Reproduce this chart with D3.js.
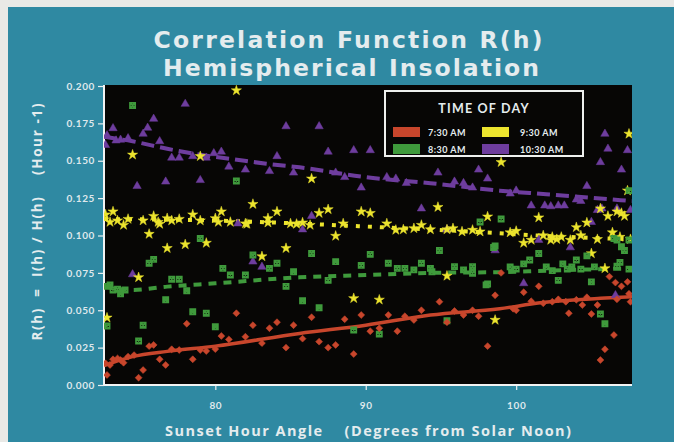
<!DOCTYPE html>
<html>
<head>
<meta charset="utf-8">
<script src="https://cdn.jsdelivr.net/npm/d3@7"></script>
<style>
  html, body { margin: 0; padding: 0; background: #e9e9e6; }
  svg { display: block; }
  text { font-family: Lato, "Open Sans", sans-serif; font-weight: 700; fill: #e4ecee; font-variant-ligatures: none; }
  .big { font-family: "Open Sans", Lato, sans-serif; }
  .title { font-family: "DejaVu Sans", "Open Sans", sans-serif; }
</style>
</head>
<body>
<svg id="vis-container" width="674" height="442"></svg>
<script>
// tick labels
var yTicks = [0, 0.025, 0.05, 0.075, 0.1, 0.125, 0.15, 0.175, 0.2];
var xTicks = [80, 90, 100];

// series names and colours
var seriesNames = ['7:30 AM', '8:30 AM', '9:30 AM', '10:30 AM'];
var seriesColors = ['#c8462c', '#3f9a3c', '#ece42e', '#6e3d9e'];

// 7:30 AM points [angle, R]
var red730 = [
    [72.7, 0.0145], [73.0, 0.0134], [73.2, 0.0172], [73.5, 0.0178], [73.7, 0.0167], [73.9, 0.0149],
    [74.2, 0.019], [74.6, 0.020], [72.8, 0.0067], [74.9, 0.0049], [75.2, 0.010], [75.6, 0.026],
    [75.9, 0.0268], [76.3, 0.0172], [76.7, 0.0134], [77.1, 0.0239], [77.6, 0.0234], [78.1, 0.041],
    [78.5, 0.0172], [79.0, 0.0234], [79.4, 0.0227], [80.0, 0.024], [80.4, 0.0328], [80.9, 0.0305],
    [81.4, 0.048], [82.0, 0.0323], [82.5, 0.040], [83.1, 0.028], [83.6, 0.038], [84.1, 0.042],
    [84.7, 0.025], [85.2, 0.040], [85.8, 0.031], [86.4, 0.0453], [86.9, 0.029], [87.5, 0.025],
    [88.0, 0.0268], [88.6, 0.044], [89.2, 0.0207], [89.7, 0.0468], [90.3, 0.036], [90.9, 0.038],
    [91.5, 0.0468], [92.1, 0.036], [92.6, 0.046], [93.2, 0.0435], [93.7, 0.050], [94.9, 0.0557],
    [95.4, 0.042], [95.9, 0.0495], [96.5, 0.0468], [97.1, 0.050], [97.5, 0.046], [98.1, 0.026],
    [98.6, 0.060], [99.0, 0.075], [99.8, 0.051], [100.0, 0.050], [100.5, 0.062], [101.0, 0.056],
    [101.5, 0.066], [101.8, 0.0547], [102.4, 0.0557], [102.8, 0.0573], [103.3, 0.0557], [103.5, 0.048],
    [104.0, 0.057], [104.4, 0.0535], [104.7, 0.0587], [105.0, 0.0475], [105.4, 0.0535], [105.6, 0.0167],
    [105.9, 0.0239], [106.2, 0.0725], [106.5, 0.0334], [106.6, 0.0685], [106.7, 0.0573], [107.0, 0.066],
    [107.4, 0.069], [107.5, 0.061], [107.6, 0.0557]
];

// 8:30 AM points
var green830 = [
    [72.8, 0.0395], [72.8, 0.066], [73.0, 0.067], [73.2, 0.0635], [73.5, 0.064], [73.7, 0.061],
    [74.0, 0.0635], [74.5, 0.187], [74.9, 0.0294], [75.2, 0.040], [75.6, 0.0814], [75.9, 0.084],
    [76.7, 0.057], [77.1, 0.0707], [77.6, 0.0707], [78.1, 0.063], [78.5, 0.049], [79.0, 0.098],
    [79.4, 0.048], [80.0, 0.039], [80.5, 0.078], [81.0, 0.0736], [81.4, 0.1365], [82.0, 0.0736],
    [82.5, 0.087], [83.6, 0.078], [84.1, 0.0814], [84.7, 0.066], [85.2, 0.0758], [85.8, 0.0564],
    [86.4, 0.088], [86.9, 0.0517], [87.5, 0.070], [88.0, 0.0825], [89.2, 0.0368], [89.7, 0.080],
    [90.3, 0.0874], [90.9, 0.034], [91.5, 0.0814], [92.1, 0.078], [92.6, 0.078], [93.2, 0.077],
    [93.7, 0.0814], [94.3, 0.078], [94.4, 0.0758], [94.9, 0.090], [95.4, 0.043], [95.9, 0.0792],
    [96.5, 0.077], [97.1, 0.0792], [97.1, 0.0747], [97.6, 0.109], [98.6, 0.093], [98.1, 0.0676],
    [99.0, 0.111], [98.5, 0.092], [98.0, 0.067], [99.6, 0.079], [100.0, 0.0775], [100.5, 0.081],
    [100.9, 0.0836], [101.5, 0.088], [102.0, 0.079], [102.4, 0.0765], [102.8, 0.070], [103.1, 0.081],
    [103.4, 0.0775], [103.7, 0.079], [104.0, 0.0836], [104.3, 0.0775], [104.7, 0.0864], [105.0, 0.069],
    [105.2, 0.079], [105.6, 0.0475], [105.9, 0.041], [106.5, 0.098], [106.7, 0.097], [106.7, 0.0795],
    [106.9, 0.082], [107.0, 0.0925], [107.2, 0.090], [107.5, 0.097], [107.5, 0.0775], [107.5, 0.130]
];

// 9:30 AM points
var yellow930 = [
    [81.4, 0.197], [74.5, 0.154], [79.0, 0.153], [82.5, 0.121], [84.1, 0.116], [80.4, 0.116],
    [78.5, 0.114], [73.2, 0.116], [72.7, 0.114], [75.9, 0.113], [73.0, 0.109], [73.5, 0.110],
    [73.9, 0.107], [74.2, 0.111], [75.2, 0.110], [76.2, 0.109], [76.3, 0.1077], [76.8, 0.1115],
    [77.1, 0.110], [77.6, 0.111], [79.0, 0.110], [80.0, 0.1115], [80.2, 0.109], [81.0, 0.109],
    [82.0, 0.108], [82.1, 0.1077], [83.5, 0.1115], [83.5, 0.1086], [85.0, 0.108], [85.4, 0.1077],
    [75.6, 0.101], [78.0, 0.094], [79.4, 0.095], [76.8, 0.0915], [84.7, 0.0915], [83.1, 0.086],
    [74.9, 0.072], [72.8, 0.045], [86.4, 0.138], [86.9, 0.115], [87.5, 0.1175], [89.7, 0.116],
    [90.3, 0.115], [94.8, 0.119], [98.1, 0.1126], [88.0, 0.0997], [89.2, 0.058], [90.9, 0.057],
    [95.4, 0.073], [98.6, 0.0435], [85.8, 0.1086], [86.3, 0.107], [88.5, 0.108], [91.4, 0.108],
    [92.0, 0.1037], [92.5, 0.104], [93.2, 0.1048], [93.7, 0.107], [94.3, 0.104], [95.4, 0.104],
    [95.8, 0.1048], [96.4, 0.1026], [97.1, 0.1037], [97.6, 0.1026], [99.0, 0.149], [101.5, 0.112],
    [104.0, 0.1055], [104.7, 0.1086], [105.6, 0.118], [106.1, 0.113], [106.7, 0.116], [107.0, 0.115],
    [107.2, 0.113], [107.4, 0.130], [105.0, 0.088], [105.9, 0.078], [107.5, 0.168], [99.6, 0.102],
    [100.0, 0.103], [100.5, 0.095], [101.0, 0.097], [101.8, 0.100], [102.3, 0.097], [102.4, 0.099],
    [102.7, 0.0975], [103.0, 0.099], [103.6, 0.097], [104.3, 0.100], [105.4, 0.0975], [106.4, 0.102],
    [106.9, 0.099], [107.6, 0.0975]
];

// 10:30 AM points
var purple1030 = [
    [78.0, 0.188], [73.2, 0.1717], [72.8, 0.167], [75.9, 0.178], [75.5, 0.172], [75.2, 0.168],
    [76.3, 0.163], [74.2, 0.165], [73.7, 0.164], [73.4, 0.1635], [72.7, 0.1605], [76.7, 0.136],
    [74.8, 0.133], [77.1, 0.152], [77.6, 0.152], [78.5, 0.153], [79.0, 0.137], [79.4, 0.152],
    [79.9, 0.155], [80.4, 0.156], [80.9, 0.146], [82.0, 0.144], [83.6, 0.143], [84.1, 0.153],
    [84.7, 0.173], [85.2, 0.142], [81.5, 0.108], [86.9, 0.173], [87.5, 0.156], [89.2, 0.157],
    [90.3, 0.157], [89.7, 0.132], [91.4, 0.139], [92.0, 0.138], [94.8, 0.142], [97.5, 0.144],
    [98.1, 0.138], [95.9, 0.136], [96.5, 0.135], [97.1, 0.132], [93.7, 0.118], [86.4, 0.113],
    [85.8, 0.104], [95.4, 0.104], [98.6, 0.090], [88.6, 0.139], [88.0, 0.142], [92.7, 0.135],
    [105.9, 0.168], [106.1, 0.158], [107.4, 0.157], [105.6, 0.149], [107.0, 0.144], [104.7, 0.133],
    [101.0, 0.120], [101.9, 0.120], [102.3, 0.1195], [102.8, 0.120], [103.2, 0.120], [104.0, 0.124],
    [104.3, 0.123], [105.4, 0.117], [105.7, 0.118], [106.7, 0.118], [107.6, 0.117], [105.0, 0.109],
    [101.5, 0.097], [103.6, 0.092], [100.5, 0.068], [106.6, 0.060], [99.6, 0.128], [100.0, 0.130],
    [74.5, 0.074], [82.5, 0.0825], [83.1, 0.079]
];

// fitted curves
var redFit = [[72.6, 0.013], [74.5, 0.019], [76.8, 0.0225], [80, 0.026], [85.6, 0.0345], [90, 0.040],
    [94.3, 0.0468], [98.9, 0.051], [101.6, 0.055], [105.6, 0.058], [107.7, 0.059]];
var greenFit = [[72.6, 0.066], [74.5, 0.0636], [76.8, 0.0658], [80, 0.068], [85.6, 0.072], [90, 0.0736],
    [94.3, 0.075], [98.9, 0.0755], [102, 0.0765], [107.7, 0.078]];
var yellowFit = [[72.6, 0.111], [80, 0.110], [85.6, 0.108], [90, 0.106], [94.3, 0.104], [98.9, 0.1015],
    [102, 0.0997], [107.7, 0.0975]];
var purpleFit = [[72.6, 0.166], [74.5, 0.163], [76.8, 0.158], [79.0, 0.154], [81.2, 0.151], [83.4, 0.148],
    [85.6, 0.1456], [90, 0.139], [94.3, 0.135], [98.9, 0.130], [102, 0.1276], [107.7, 0.123]];

var margin = { top: 85, left: 104 };
var width = 528, height = 300;

var svg = d3.select('#vis-container');

// teal panel with a pale strip at the top and left
svg.append('rect')
    .attr('x', 8).attr('y', 7)
    .attr('width', 666).attr('height', 435)
    .style('fill', '#2f89a2');

// two-line title, spacing stretched to the original widths
var title = svg.append('text')
    .attr('class', 'title')
    .attr('text-anchor', 'middle')
    .style('font-size', '23.5px');
title.append('tspan')
    .attr('x', 348).attr('y', 48)
    .attr('textLength', 389).attr('lengthAdjust', 'spacing')
    .text('Correlation Function R(h)');
title.append('tspan')
    .attr('x', 351).attr('y', 76)
    .attr('textLength', 376).attr('lengthAdjust', 'spacing')
    .text('Hemispherical Insolation');

var xScale = d3.scaleLinear().domain([72.6, 107.7]).range([0, width]);
var yScale = d3.scaleLinear().domain([0, 0.2]).range([height, 1]);

var g = svg.append('g')
    .attr('transform', 'translate(' + margin.left + ',' + margin.top + ')');

g.append('rect')
    .attr('width', width).attr('height', height)
    .style('fill', '#070605');

g.append('clipPath').attr('id', 'plot-clip')
    .append('rect').attr('width', width).attr('height', height);

// axes
var yAxis = g.append('g')
    .call(d3.axisLeft(yScale).tickValues(yTicks).tickFormat(d3.format('.3f')).tickSize(6).tickPadding(3));
var xAxis = g.append('g')
    .attr('transform', 'translate(0,' + height + ')')
    .call(d3.axisBottom(xScale).tickValues(xTicks).tickSize(5).tickPadding(12));

[yAxis, xAxis].forEach(function (ax) {
    ax.select('.domain').remove();
    ax.selectAll('line').style('stroke', '#e8eef0').style('stroke-width', 1.2);
    ax.selectAll('text')
        .style('font-size', '10px')
        .style('letter-spacing', '0.6px')
        .style('fill', '#dfe8ec');
});

g.append('line').attr('x1', 0).attr('x2', 0).attr('y1', 0).attr('y2', height)
    .style('stroke', '#f2f4f4').style('stroke-width', 2);
g.append('line').attr('x1', 0).attr('x2', width).attr('y1', height).attr('y2', height)
    .style('stroke', '#f2f4f4').style('stroke-width', 2);

svg.append('text')
    .attr('class', 'big')
    .attr('transform', 'translate(42,' + 222 + ') rotate(-90)')
    .attr('text-anchor', 'middle')
    .attr('textLength', 237).attr('lengthAdjust', 'spacing')
    .style('font-size', '13.5px')
    .style('white-space', 'pre')
    .text('R(h)  =  I(h) / H(h)    (Hour -1)');

svg.append('text')
    .attr('class', 'big')
    .attr('x', 368).attr('y', 436)
    .attr('text-anchor', 'middle')
    .attr('textLength', 406).attr('lengthAdjust', 'spacing')
    .style('font-size', '14.5px')
    .style('white-space', 'pre')
    .text('Sunset Hour Angle    (Degrees from Solar Noon)');

var plot = g.append('g').attr('clip-path', 'url(#plot-clip)');

var line = d3.line()
    .x(function (d) { return xScale(d[0]); })
    .y(function (d) { return yScale(d[1]); })
    .curve(d3.curveMonotoneX);

var fits = [
    { data: redFit, color: seriesColors[0], dash: null, w: 3.5 },
    { data: greenFit, color: seriesColors[1], dash: '8,7', w: 4 },
    { data: yellowFit, color: seriesColors[2], dash: '4,8', w: 4 },
    { data: purpleFit, color: seriesColors[3], dash: '13,6', w: 4 }
];

plot.selectAll('.fit')
    .data(fits)
    .enter().append('path')
    .attr('class', 'fit')
    .attr('d', function (d) { return line(d.data); })
    .style('fill', 'none')
    .style('stroke', function (d) { return d.color; })
    .style('stroke-width', function (d) { return d.w; })
    .style('stroke-dasharray', function (d) { return d.dash; });

// boxed cross for the 8:30 series
function boxCross(s) {
    return 'M' + (-s) + ',' + (-s) + 'L' + s + ',' + s + 'M' + s + ',' + (-s) + 'L' + (-s) + ',' + s +
        'M' + (-s) + ',' + (-s) + 'H' + s + 'V' + s + 'H' + (-s) + 'Z';
}

var markers = [
    { data: purple1030, color: seriesColors[3], path: d3.symbol().type(d3.symbolTriangle).size(30)() },
    { data: yellow930, color: seriesColors[2], path: d3.symbol().type(d3.symbolStar).size(32)() },
    { data: green830, color: seriesColors[1], path: boxCross(2.6), stroke: true },
    { data: red730, color: seriesColors[0], path: d3.symbol().type(d3.symbolSquare).size(24)(), rot: 45 }
];

markers.forEach(function (m) {
    plot.append('g').selectAll('path')
        .data(m.data)
        .enter().append('path')
        .attr('d', m.path)
        .attr('transform', function (d) {
            return 'translate(' + xScale(d[0]) + ',' + yScale(d[1]) + ')' + (m.rot ? ' rotate(' + m.rot + ')' : '');
        })
        .style('fill', m.stroke ? 'none' : m.color)
        .style('stroke', m.color)
        .style('stroke-width', m.stroke ? 1.7 : 0.5);
});

// legend
var legend = svg.append('g').attr('transform', 'translate(385,91)');
legend.append('rect')
    .attr('width', 198).attr('height', 65)
    .style('fill', '#070605')
    .style('stroke', '#eef0ee')
    .style('stroke-width', 2);
legend.append('text')
    .attr('x', 99).attr('y', 22)
    .attr('text-anchor', 'middle')
    .style('font-size', '12.5px')
    .style('letter-spacing', '1.2px')
    .text('TIME OF DAY');

var items = legend.selectAll('.item')
    .data(seriesNames)
    .enter().append('g')
    .attr('class', 'item')
    .attr('transform', function (d, i) {
        var col = i < 2 ? 0 : 1, row = i % 2;
        return 'translate(' + (8 + col * 89) + ',' + (36 + row * 17) + ')';
    });
items.append('rect')
    .attr('width', 27).attr('height', 10)
    .style('fill', function (d, i) { return seriesColors[i]; });
items.append('text')
    .attr('x', function (d, i) { return i < 2 ? 35 : 38; })
    .attr('y', 8.5)
    .style('font-size', '9px')
    .style('letter-spacing', '0.5px')
    .text(function (d) { return d; });
</script>
</body>
</html>
